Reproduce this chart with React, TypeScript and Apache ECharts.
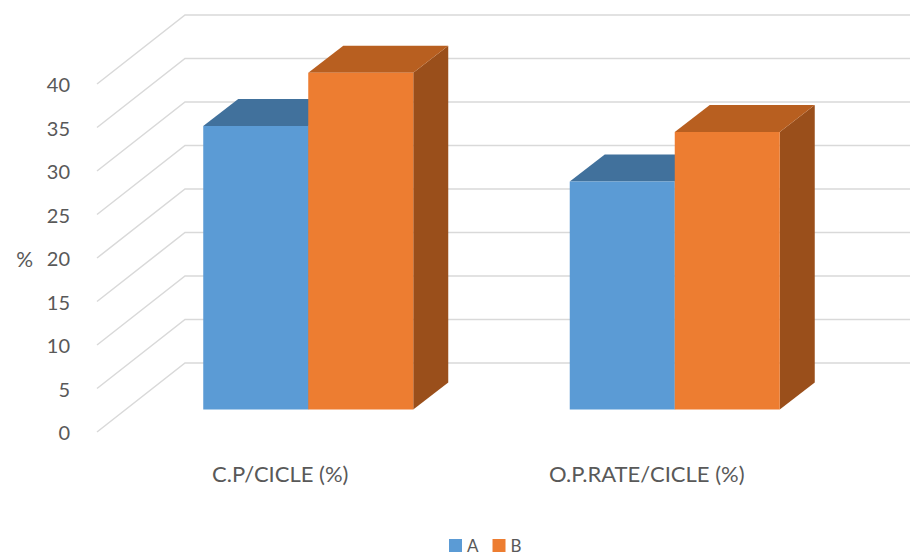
import React, { useEffect, useRef } from "react";
import * as echarts from "echarts";

const categories = ["C.P/CICLE (%)", "O.P.RATE/CICLE (%)"];
const seriesNames = ["A", "B"];
const valuesA = [32.6, 26.2];
const valuesB = [38.7, 31.9];
const yTicks = [0, 5, 10, 15, 20, 25, 30, 35, 40];

const FRONT = ["#5B9BD5", "#ED7D31"];
const TOPC = ["#41719C", "#B85F20"];
const SIDE = ["#3A6690", "#9A4F1B"];
const WALL_DX = 88;
const WALL_DY = -69;
const BAR_OFF_X = 28;
const BAR_OFF_Y = -22.5;
const BAR_DEPTH_X = 35;
const BAR_DEPTH_Y = -27;
const BAR_FRAC = 0.2865;
const FONT = "Lato, 'Open Sans', sans-serif";
const TEXT = "#595959";

function makeBarRender(k: number) {
  return (params: any, api: any) => {
    const cat = api.value(0);
    const v = api.value(1);
    const top = api.coord([cat, v]);
    const bot = api.coord([cat, 0]);
    const band = api.size([1, 0])[0];
    const w = band * BAR_FRAC;
    const x0 = top[0] + (k === 0 ? -w : 0) + BAR_OFF_X;
    const x1 = x0 + w;
    const yT = top[1] + BAR_OFF_Y;
    const yB = bot[1] + BAR_OFF_Y;
    const dx = BAR_DEPTH_X;
    const dy = BAR_DEPTH_Y;
    return {
      type: "group",
      children: [
        {
          type: "polygon",
          shape: { points: [[x1, yT], [x1 + dx, yT + dy], [x1 + dx, yB + dy], [x1, yB]] },
          style: { fill: SIDE[k] },
        },
        {
          type: "polygon",
          shape: { points: [[x0, yT], [x0 + dx, yT + dy], [x1 + dx, yT + dy], [x1, yT]] },
          style: { fill: TOPC[k] },
        },
        {
          type: "rect",
          shape: { x: x0, y: yT, width: w, height: yB - yT },
          style: { fill: FRONT[k] },
        },
      ],
    };
  };
}

function renderGrid(params: any, api: any) {
  const v = api.value(1);
  const p = api.coord([0, v]);
  const band = api.size([1, 0])[0];
  const left = p[0] - band / 2;
  const right = left + band * categories.length;
  const y = p[1];
  return {
    type: "polyline",
    shape: {
      points: [
        [left, y],
        [left + WALL_DX, y + WALL_DY],
        [right + WALL_DX, y + WALL_DY],
      ],
    },
    style: { stroke: "#D9D9D9", lineWidth: 1.5, fill: "none" },
  };
}

export default function App() {
  const ref = useRef<HTMLDivElement>(null);
  useEffect(() => {
    if (!ref.current) return;
    const chart = echarts.init(ref.current, null, { renderer: "svg" });
    chart.setOption({
      animation: false,
      backgroundColor: "#ffffff",
      grid: { left: 97, top: 84, width: 733, height: 348 },
      legend: {
        data: seriesNames,
        left: 449,
        top: 537,
        icon: "rect",
        itemWidth: 13,
        itemHeight: 13,
        itemGap: 14,
        padding: 0,
        textStyle: { fontSize: 17, lineHeight: 17, color: TEXT, fontFamily: FONT },
      },
      xAxis: {
        type: "category",
        data: categories,
        axisLine: { show: false },
        axisTick: { show: false },
        axisLabel: { fontSize: 22, color: TEXT, fontFamily: FONT, margin: 30 },
      },
      yAxis: {
        type: "value",
        min: 0,
        max: 40,
        interval: 5,
        name: "%",
        nameLocation: "middle",
        nameRotate: 0,
        nameGap: 64,
        nameTextStyle: { fontSize: 21, color: TEXT, fontFamily: FONT, padding: [0, 0, 18, 0] },
        axisLine: { show: false },
        axisTick: { show: false },
        splitLine: { show: false },
        axisLabel: { fontSize: 20, color: TEXT, fontFamily: FONT, margin: 27 },
      },
      series: [
        {
          type: "custom",
          name: "grid",
          renderItem: renderGrid,
          clip: false,
          silent: true,
          data: yTicks.map((t) => [0, t]),
          encode: { x: 0, y: 1 },
          z: 1,
        },
        {
          type: "custom",
          name: seriesNames[0],
          color: FRONT[0],
          itemStyle: { color: FRONT[0] },
          renderItem: makeBarRender(0),
          clip: false,
          data: valuesA.map((v, i) => [i, v]),
          encode: { x: 0, y: 1 },
          z: 2,
        },
        {
          type: "custom",
          name: seriesNames[1],
          color: FRONT[1],
          itemStyle: { color: FRONT[1] },
          renderItem: makeBarRender(1),
          clip: false,
          data: valuesB.map((v, i) => [i, v]),
          encode: { x: 0, y: 1 },
          z: 3,
        },
      ],
    });
    return () => chart.dispose();
  }, []);
  return (
    <div
      ref={ref}
      style={{ position: "absolute", left: 0, top: 0, width: 910, height: 557 }}
    />
  );
}
